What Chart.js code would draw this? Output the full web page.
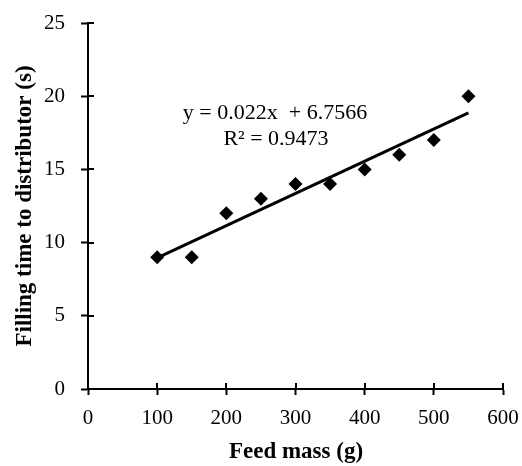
<!DOCTYPE html>
<html>
<head>
<meta charset="utf-8">
<script src="https://cdn.jsdelivr.net/npm/chart.js@4/dist/chart.umd.min.js"></script>
<style>
html,body{margin:0;padding:0;background:#fff;}
#wrap{width:522px;height:466px;}
</style>
</head>
<body>
<div id="wrap"><canvas id="c" width="522" height="466"></canvas></div>
<script>
const feedMass = [100, 150, 200, 250, 300, 350, 400, 450, 500, 550];
const fillingTime = [9, 9, 12, 13, 14, 14, 15, 16, 17, 20];
const trendSlope = 0.022;
const trendIntercept = 6.7566;
const trendRange = [100, 550];
const equationLines = ['y = 0.022x  + 6.7566', 'R\u00B2 = 0.9473'];
const xTitle = 'Feed mass (g)';
const yTitle = 'Filling time to distributor (s)';
const xTicks = [0, 100, 200, 300, 400, 500, 600];
const yTicks = [0, 5, 10, 15, 20, 25];

const points = feedMass.map((x, i) => ({x: x, y: fillingTime[i]}));
const trendPoints = trendRange.map(x => ({x: x, y: trendSlope * x + trendIntercept}));

const FONT = '"Liberation Serif", "Times New Roman", serif';

const extras = {
  id: 'extras',
  afterDraw(chart) {
    const ctx = chart.ctx;
    const xs = chart.scales.x, ys = chart.scales.y;
    const area = chart.chartArea;
    ctx.save();
    ctx.strokeStyle = '#000';
    ctx.lineWidth = 2;
    ctx.beginPath();
    xTicks.forEach(v => {
      const px = Math.round(xs.getPixelForValue(v));
      ctx.moveTo(px, area.bottom);
      ctx.lineTo(px, area.bottom - 6);
    });
    yTicks.forEach(v => {
      const py = Math.round(ys.getPixelForValue(v));
      ctx.moveTo(area.left, py);
      ctx.lineTo(area.left + 6, py);
    });
    ctx.stroke();
    ctx.fillStyle = '#000';
    ctx.textAlign = 'center';
    ctx.textBaseline = 'middle';
    ctx.font = '22px ' + FONT;
    ctx.fillText(equationLines[0], 275, 113);
    ctx.fillText(equationLines[1], 276, 139);
    ctx.font = 'bold 23px ' + FONT;
    ctx.fillText(xTitle, 296, 452);
    ctx.translate(25, 206);
    ctx.rotate(-Math.PI / 2);
    ctx.fillText(yTitle, 0, 0);
    ctx.restore();
  }
};

new Chart(document.getElementById('c'), {
  type: 'scatter',
  data: {
    datasets: [
      {
        type: 'line',
        label: 'Trend',
        data: trendPoints,
        borderColor: '#000',
        borderWidth: 3,
        pointRadius: 0,
        fill: false,
        order: 2
      },
      {
        label: 'Filling time',
        data: points,
        pointStyle: 'rectRot',
        pointRadius: 7,
        pointHoverRadius: 7,
        backgroundColor: '#000',
        borderColor: '#000',
        borderWidth: 0,
        order: 1
      }
    ]
  },
  options: {
    responsive: false,
    animation: false,
    events: [],
    layout: {padding: {top: 23, right: 19, left: 0, bottom: 0}},
    plugins: {legend: {display: false}, tooltip: {enabled: false}},
    scales: {
      x: {
        type: 'linear',
        min: 0, max: 600,
        afterFit(s) { s.height = 77; s.paddingLeft = 0; s.paddingRight = 0; },
        afterBuildTicks(s) { s.ticks = xTicks.map(v => ({value: v})); },
        grid: {display: true, drawOnChartArea: false, tickLength: 6, tickWidth: 2, tickColor: '#000'},
        border: {display: true, color: '#000', width: 2},
        ticks: {color: '#000', font: {family: FONT, size: 21}, padding: 11, maxRotation: 0}
      },
      y: {
        type: 'linear',
        min: 0, max: 25,
        afterFit(s) { s.width = 88; s.paddingTop = 0; s.paddingBottom = 0; },
        afterBuildTicks(s) { s.ticks = yTicks.map(v => ({value: v})); },
        grid: {display: true, drawOnChartArea: false, tickLength: 7, tickWidth: 2, tickColor: '#000'},
        border: {display: true, color: '#000', width: 2},
        ticks: {color: '#000', font: {family: FONT, size: 21}, padding: 16}
      }
    }
  },
  plugins: [extras]
});
</script>
</body>
</html>
